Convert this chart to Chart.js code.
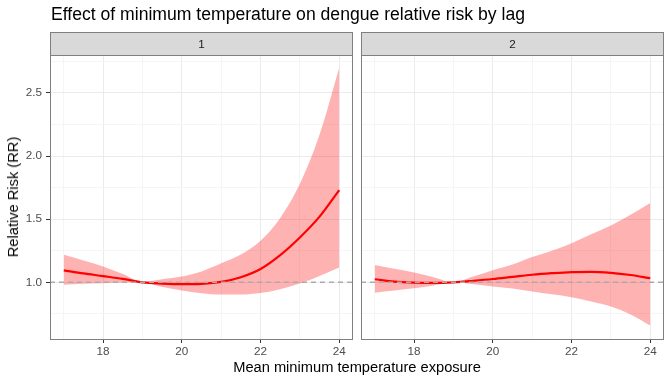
<!DOCTYPE html>
<html lang="en">
<head>
    <meta charset="UTF-8">
    <title>Dengue relative risk by lag</title>
    <script src="https://cdn.jsdelivr.net/npm/chart.js@4.4.0/dist/chart.umd.min.js"></script>
    <style>
        body { margin: 0; background: #fff; font-family: "Liberation Sans", Arial, sans-serif; }
        #page { position: relative; width: 672px; height: 384px; overflow: hidden; }
        canvas { position: absolute; left: 0; top: 0; }
        .title { position: absolute; left: 51px; top: 4px; font-size: 17.6px; color: #000; white-space: nowrap; }
        .strip { position: absolute; top: 32px; height: 22px; background: #d9d9d9; border: 1px solid #7f7f7f;
                 font-size: 11.7px; color: #1a1a1a; text-align: center; line-height: 22px; box-sizing: content-box; }
        .panel { position: absolute; top: 55px; height: 283px; border: 1px solid #7f7f7f; pointer-events: none; }
        .xtitle { position: absolute; left: 50px; width: 614px; top: 359px; text-align: center; font-size: 14.67px; color: #000; }
        .ytitle { position: absolute; left: 12.5px; top: 197px; transform: translate(-50%, -50%) rotate(-90deg);
                  font-size: 14.67px; color: #000; white-space: nowrap; }
    </style>
</head>
<body>
<div id="page">
    <canvas id="lag1" width="672" height="384"></canvas>
    <canvas id="lag2" width="672" height="384"></canvas>

    <div class="title">Effect of minimum temperature on dengue relative risk by lag</div>
    <!-- facet strips + panel borders -->
    <div class="strip" style="left:50px; width:301px;">1</div>
    <div class="strip" style="left:361px; width:301px;">2</div>
    <div class="panel" style="left:50px; width:301px;"></div>
    <div class="panel" style="left:361px; width:301px;"></div>
    <div class="xtitle">Mean minimum temperature exposure</div>
    <div class="ytitle">Relative Risk (RR)</div>
</div>

<script>
    // temperatures (x) where the curves were read
    var temps = [17, 17.5, 18, 18.5, 19, 19.5, 20, 20.5, 21, 21.5, 22, 22.5, 23, 23.5, 24];

    // lag 1
    var rr1    = [1.094, 1.070, 1.049, 1.027, 1.000, 0.990, 0.985, 0.988, 1.003, 1.040, 1.105, 1.215, 1.355, 1.520, 1.730];
    var upper1 = [1.218, 1.173, 1.126, 1.065, 1.006, 1.025, 1.046, 1.086, 1.150, 1.220, 1.330, 1.510, 1.780, 2.170, 2.700];
    var lower1 = [0.980, 0.988, 0.993, 0.999, 1.000, 0.962, 0.935, 0.914, 0.903, 0.903, 0.915, 0.945, 0.990, 1.050, 1.118];

    // lag 2
    var rr2    = [1.024, 1.005, 0.997, 0.995, 1.000, 1.012, 1.026, 1.043, 1.060, 1.072, 1.081, 1.083, 1.075, 1.058, 1.033];
    var upper2 = [1.137, 1.107, 1.077, 1.040, 1.000, 1.045, 1.095, 1.140, 1.200, 1.250, 1.310, 1.380, 1.450, 1.535, 1.628];
    var lower2 = [0.918, 0.935, 0.952, 0.975, 1.000, 0.985, 0.967, 0.950, 0.927, 0.905, 0.882, 0.848, 0.808, 0.745, 0.657];

    // axes
    var xMajor = [18, 20, 22, 24];
    var xMinor = [17, 19, 21, 23];
    var yMajor = [1.0, 1.5, 2.0, 2.5];
    var yMinor = [0.75, 1.25, 1.75, 2.25, 2.75];
    var xRange = [16.65, 24.35];
    var yRange = [0.551, 2.80];
    var refValue = 1;

    var FONT = '"Liberation Sans", Arial, sans-serif';

    function pts(ys) {
        return temps.map(function (t, i) { return { x: t, y: ys[i] }; });
    }

    // dashed reference line at RR = 1, drawn above the curves
    var refLine = {
        id: 'refLine',
        afterDatasetsDraw: function (chart) {
            var a = chart.chartArea, ctx = chart.ctx;
            var y = chart.scales.y.getPixelForValue(refValue);
            ctx.save();
            ctx.strokeStyle = '#ababab';
            ctx.lineWidth = 1.5;
            ctx.setLineDash([5, 4]);
            ctx.beginPath();
            ctx.moveTo(a.left, y);
            ctx.lineTo(a.right, y);
            ctx.stroke();
            ctx.restore();
        }
    };

    function makeChart(id, rr, up, lo, first) {
        return new Chart(document.getElementById(id), {
            type: 'line',
            data: {
                datasets: [
                    { data: pts(rr), borderColor: '#ff0000', borderWidth: 2.2, pointRadius: 0,
                      cubicInterpolationMode: 'monotone', fill: false },
                    { data: pts(up), borderWidth: 0, pointRadius: 0, borderColor: 'rgba(0,0,0,0)',
                      backgroundColor: 'rgba(255,0,0,0.3)', cubicInterpolationMode: 'monotone', fill: '+1' },
                    { data: pts(lo), borderWidth: 0, pointRadius: 0, borderColor: 'rgba(0,0,0,0)',
                      cubicInterpolationMode: 'monotone', fill: false }
                ]
            },
            options: {
                responsive: false,
                animation: false,
                events: [],
                layout: { padding: first
                    ? { left: 10, right: 319, top: 55, bottom: 25 }
                    : { left: 361, right: 8, top: 55, bottom: 25 } },
                plugins: { legend: { display: false }, tooltip: { enabled: false } },
                scales: {
                    x: {
                        type: 'linear', min: xRange[0], max: xRange[1],
                        afterFit: function (s) { s.height = 20; },
                        afterBuildTicks: function (s) {
                            s.ticks = xMinor.concat(xMajor).sort(function (a, b) { return a - b; })
                                .map(function (v) { return { value: v }; });
                        },
                        border: { display: false },
                        grid: {
                            color: function (c) { return xMajor.indexOf(c.tick.value) >= 0 ? '#ebebeb' : '#f5f5f5'; },
                            tickColor: function (c) { return xMajor.indexOf(c.tick.value) >= 0 ? '#333333' : 'rgba(0,0,0,0)'; },
                            tickLength: 4, lineWidth: 1
                        },
                        ticks: {
                            autoSkip: false, maxRotation: 0, padding: 2, color: '#4d4d4d',
                            font: { family: FONT, size: 11.7 },
                            callback: function (v) { return xMajor.indexOf(v) >= 0 ? String(v) : ''; }
                        }
                    },
                    y: {
                        type: 'linear', min: yRange[0], max: yRange[1],
                        afterFit: function (s) { s.width = first ? 40 : 0; },
                        afterBuildTicks: function (s) {
                            s.ticks = yMinor.concat(yMajor).sort(function (a, b) { return a - b; })
                                .map(function (v) { return { value: v }; });
                        },
                        border: { display: false },
                        grid: {
                            color: function (c) { return yMajor.indexOf(c.tick.value) >= 0 ? '#ebebeb' : '#f5f5f5'; },
                            tickColor: function (c) { return first && yMajor.indexOf(c.tick.value) >= 0 ? '#333333' : 'rgba(0,0,0,0)'; },
                            tickLength: first ? 4 : 0, lineWidth: 1
                        },
                        ticks: {
                            display: first, autoSkip: false, padding: 4, color: '#4d4d4d',
                            font: { family: FONT, size: 11.7 },
                            callback: function (v) { return yMajor.indexOf(v) >= 0 ? v.toFixed(1) : ''; }
                        }
                    }
                }
            },
            plugins: [refLine]
        });
    }

    var chart1 = makeChart('lag1', rr1, upper1, lower1, true);
    var chart2 = makeChart('lag2', rr2, upper2, lower2, false);
</script>
</body>
</html>
